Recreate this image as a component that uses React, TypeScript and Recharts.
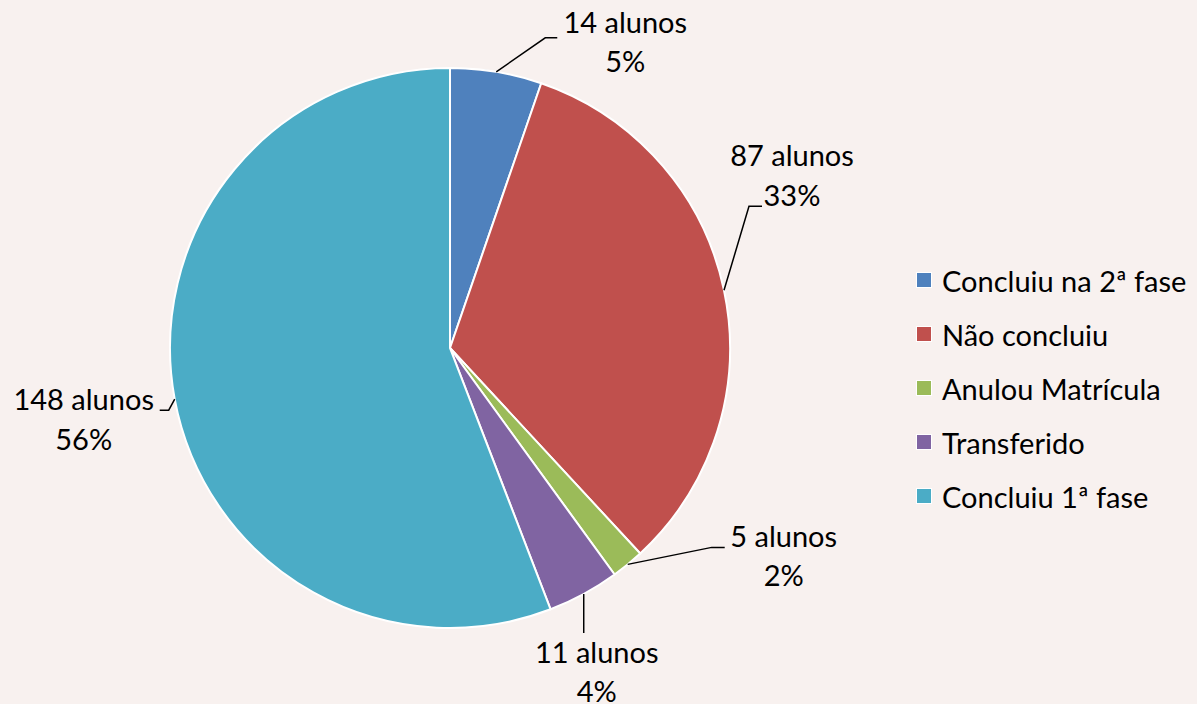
import React from "react";
import { PieChart, Pie, Cell, Legend } from "recharts";

const categories = [
  "Concluiu na 2ª fase",
  "Não concluiu",
  "Anulou Matrícula",
  "Transferido",
  "Concluiu 1ª fase",
];
const values = [14, 87, 5, 11, 148];
const colors = ["#4F81BD", "#C0504D", "#9BBB59", "#8064A2", "#4BACC6"];
const unitLabel = "alunos";

// leader-line / label layout, relative to the slice's outer edge point
const labelLayout = [
  { elbow: [49, -34], end: [61, -34], tx: 129, ty: [-39, 0] },
  { elbow: [25, -84], end: [38, -84], tx: 68, ty: [-124, -84] },
  { elbow: [84, -17], end: [97, -17], tx: 156, ty: [-17, 22] },
  { elbow: [0, 39], end: [0, 39], tx: 13, ty: [69, 108] },
  { elbow: [-6, 11], end: [-15, 11], tx: -91, ty: [11, 51] },
];

const FONT = "Lato, 'Open Sans', sans-serif";
const FS = 29;

const data = categories.map((name, i) => ({ name, value: values[i] }));
const total = values.reduce((a, b) => a + b, 0);

const renderLabel = (props: any) => {
  const { cx, cy, midAngle, outerRadius, index, value } = props;
  const RAD = Math.PI / 180;
  const ex = cx + outerRadius * Math.cos(-midAngle * RAD);
  const ey = cy + outerRadius * Math.sin(-midAngle * RAD);
  const L = labelLayout[index];
  const pct = Math.round((value / total) * 100);
  return (
    <g>
      <polyline
        points={`${ex},${ey} ${ex + L.elbow[0]},${ey + L.elbow[1]} ${ex + L.end[0]},${ey + L.end[1]}`}
        fill="none"
        stroke="#000"
        strokeWidth={1.5}
      />
      <text x={ex + L.tx} y={ey + L.ty[0]} textAnchor="middle" fontFamily={FONT} fontSize={FS} fill="#000">
        {`${value} ${unitLabel}`}
      </text>
      <text x={ex + L.tx} y={ey + L.ty[1]} textAnchor="middle" fontFamily={FONT} fontSize={FS} fill="#000">
        {`${pct}%`}
      </text>
    </g>
  );
};

const renderLegend = () => {
  return (
    <div style={{ fontFamily: FONT, fontSize: FS, color: "#000" }}>
      {categories.map((name, i) => (
        <div key={name} style={{ display: "flex", alignItems: "center", height: 54 }}>
          <span
            style={{
              display: "inline-block",
              width: 14,
              height: 14,
              background: colors[i],
              border: "1px solid #fff",
              marginRight: 10,
            }}
          />
          <span>{name}</span>
        </div>
      ))}
    </div>
  );
};

export default function App() {
  return (
    <div style={{ position: "absolute", left: 0, top: 0, width: 1197, height: 704, background: "#F8F1EF" }}>
      <PieChart width={1197} height={704} margin={{ top: 0, right: 0, bottom: 0, left: 0 }}>
        <Pie
          data={data}
          dataKey="value"
          nameKey="name"
          cx={450}
          cy={348}
          outerRadius={280}
          startAngle={90}
          endAngle={-270}
          stroke="#fff"
          strokeWidth={2}
          label={renderLabel}
          labelLine={false}
          isAnimationActive={false}
        >
          {data.map((d, i) => (
            <Cell key={d.name} fill={colors[i]} />
          ))}
        </Pie>
        <Legend
          layout="vertical"
          align="right"
          verticalAlign="top"
          content={renderLegend}
          wrapperStyle={{ left: 916, top: 253, width: 281 }}
        />
      </PieChart>
    </div>
  );
}
